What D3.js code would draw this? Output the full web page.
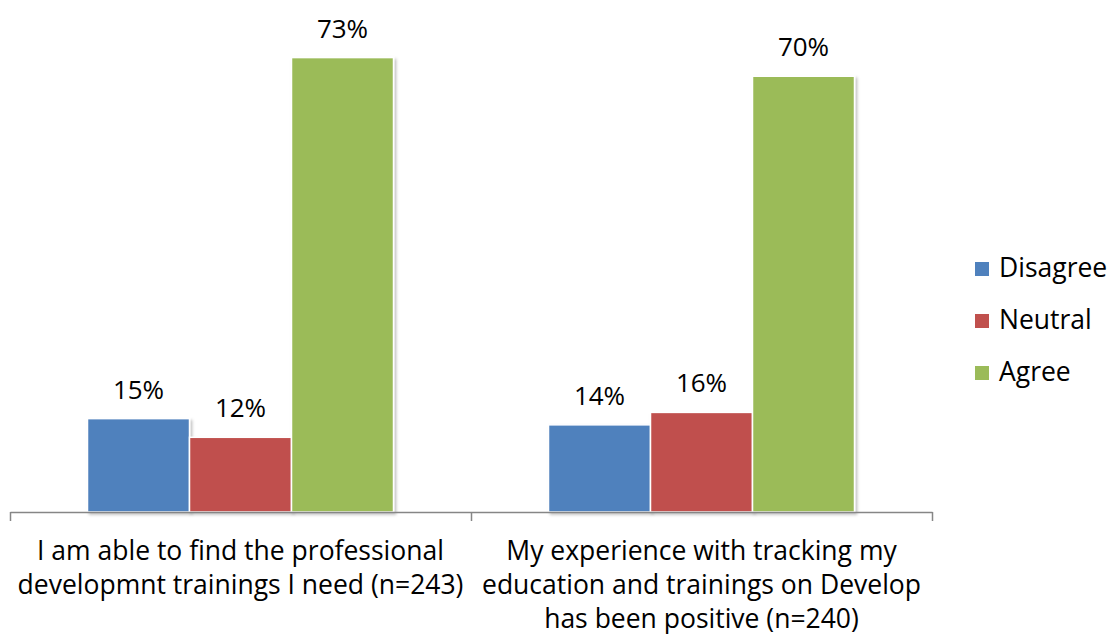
<!DOCTYPE html>
<html>
<head>
<meta charset="utf-8">
<script src="https://cdn.jsdelivr.net/npm/d3@7"></script>
<style>
  html, body { margin: 0; padding: 0; background: #fff; }
  svg { display: block; font-family: "Open Sans", sans-serif; }
</style>
</head>
<body>
<svg id="chart" width="1109" height="634"></svg>
<script>
// Survey responses per statement
const categories = [
  ["I am able to find the professional", "developmnt trainings I need (n=243)"],
  ["My experience with tracking my", "education and trainings on Develop", "has been positive (n=240)"]
];
const seriesNames = ["Disagree", "Neutral", "Agree"];
const disagree = [0.15, 0.14];
const neutral  = [0.12, 0.16];
const agree    = [0.73, 0.70];
const colors = ["#4f81bd", "#c0504d", "#9bbb59"];

const values = [disagree, neutral, agree];
const svg = d3.select("#chart");

const x0 = d3.scaleBand().domain(d3.range(categories.length)).range([10, 932]).paddingInner(0).paddingOuter(0);
const x1 = d3.scaleBand().domain(seriesNames).range([77.5, 383.5]);
const y = d3.scaleLinear().domain([0, 0.8]).range([512, 14]);
const color = d3.scaleOrdinal().domain(seriesNames).range(colors);

// soft shadow under the bars
const defs = svg.append("defs");
const f = defs.append("filter").attr("id", "shadow").attr("x", "-10%").attr("y", "-10%").attr("width", "130%").attr("height", "130%");
f.append("feDropShadow").attr("dx", 2).attr("dy", 2).attr("stdDeviation", 1.5).attr("flood-color", "#000").attr("flood-opacity", 0.25);

const groups = svg.append("g").selectAll("g")
  .data(categories.map((c, i) => i))
  .join("g")
  .attr("transform", i => `translate(${x0(i)},0)`);

groups.selectAll("rect")
  .data(i => seriesNames.map((s, k) => ({ s, v: values[k][i] })))
  .join("rect")
  .attr("x", d => x1(d.s))
  .attr("width", x1.bandwidth())
  .attr("y", d => y(d.v))
  .attr("height", d => y(0) - y(d.v))
  .attr("fill", d => color(d.s))
  .attr("stroke", "#fff")
  .attr("stroke-width", 1.5)
  .attr("filter", "url(#shadow)");

groups.selectAll("text.val")
  .data(i => seriesNames.map((s, k) => ({ s, v: values[k][i] })))
  .join("text")
  .attr("class", "val")
  .attr("x", d => x1(d.s) + x1.bandwidth() / 2)
  .attr("y", d => y(d.v) - 20)
  .attr("text-anchor", "middle")
  .attr("font-size", 26)
  .attr("fill", "#000")
  .text(d => d3.format(".0%")(d.v));

// category axis
const axis = d3.axisBottom(d3.scaleLinear().domain([0, categories.length]).range([10, 932]))
  .tickValues(d3.range(categories.length + 1))
  .tickSize(9)
  .tickSizeOuter(0)
  .tickFormat("");
const ax = svg.append("g").attr("transform", `translate(0,${y(0)})`).call(axis);
ax.selectAll("path, line").attr("stroke", "#868686").attr("stroke-width", 1.5);

// wrapped category labels
svg.append("g").selectAll("text")
  .data(categories)
  .join("text")
  .attr("text-anchor", "middle")
  .attr("font-size", 26.5)
  .attr("fill", "#000")
  .each(function (lines, i) {
    d3.select(this).selectAll("tspan")
      .data(lines)
      .join("tspan")
      .attr("x", x0(i) + x0.bandwidth() / 2)
      .attr("y", (d, j) => 560 + j * 34)
      .text(d => d);
  });

// legend
const legend = svg.append("g").selectAll("g")
  .data(seriesNames)
  .join("g")
  .attr("transform", (d, i) => `translate(975,${262 + i * 52})`);
legend.append("rect").attr("width", 14).attr("height", 14).attr("fill", d => color(d));
legend.append("text").attr("x", 24).attr("y", 15).attr("font-size", 26.5).attr("fill", "#000").text(d => d);
</script>
</body>
</html>
